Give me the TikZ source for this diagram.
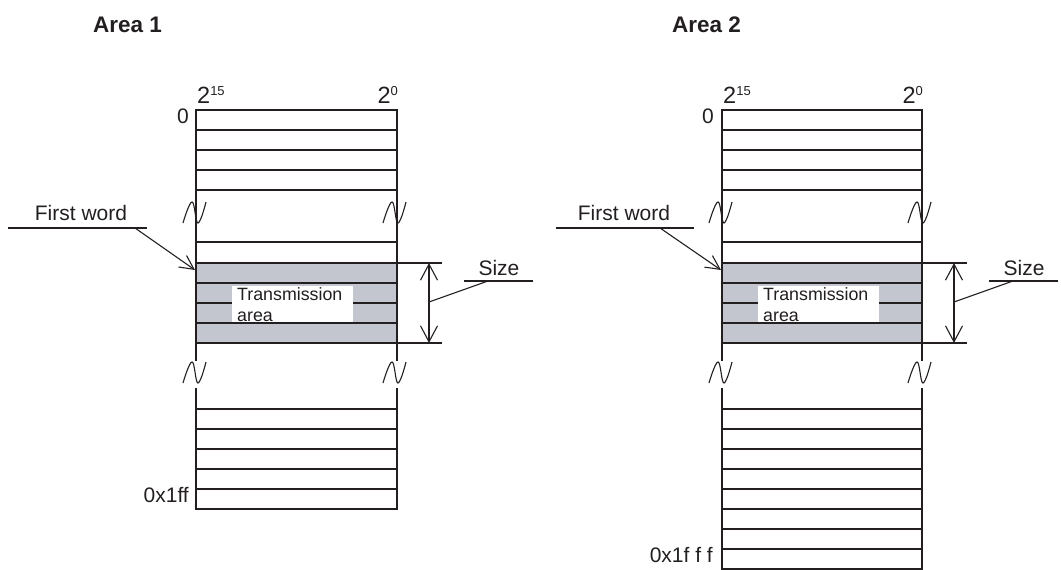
\documentclass[tikz,border=0pt]{standalone}
\usepackage{fontspec}
\setmainfont{Liberation Sans}
\usetikzlibrary{arrows.meta}
\definecolor{inkgray}{RGB}{35,31,32}
\definecolor{areagray}{RGB}{195,198,206}
\newcommand{\breakmark}[2]{\draw[wave, shift={(#1,#2)}] plot[smooth, tension=0.7] coordinates {(-14,10) (-5,-11) (1,10) (9,-11)};}
\newcommand{\bitlabel}[1]{{\fontsize{23.5}{26}\selectfont 2}\raisebox{7.5pt}{\fontsize{13}{13}\selectfont #1}}

\begin{document}
\begin{tikzpicture}[
    x=1pt, y=-1pt,
    cell/.style={draw=inkgray, line width=1.3pt},
    rowline/.style={draw=inkgray, line width=1.6pt},
    lbl/.style={inner sep=0pt, text=inkgray, font=\fontsize{21}{25}\selectfont},
    areatitle/.style={inner sep=0pt, text=inkgray, font=\fontsize{22.5}{26}\selectfont\bfseries},
    tagbox/.style={fill=white, inner xsep=5pt, inner ysep=0pt, minimum width=121pt, minimum height=36pt, text width=111pt, align=left, text=inkgray, font=\fontsize{17.8}{21}\selectfont},
    leader/.style={draw=inkgray, line width=1.1pt},
    arrow/.style={leader, -{Straight Barb[length=14pt,width=14pt]}},
    dimline/.style={leader, {Straight Barb[length=16pt,width=17pt]}-{Straight Barb[length=16pt,width=17pt]}},
    wave/.style={draw=inkgray, line width=1.1pt}
]
    \useasboundingbox (0,0) rectangle (1061,570);

    % Area 1
    \node[areatitle, anchor=base west] (title1) at (93,32) {Area 1};
    \node[lbl, anchor=base west] (msb1) at (197,103) {\bitlabel{15}};
    \node[lbl, anchor=base east] (lsb1) at (398,103) {\bitlabel{0}};
    \node[lbl, anchor=base east] (first1) at (189,123) {0};
    \draw[cell] (196,110) rectangle (397,190);
    \foreach \y in {130,150,170} \draw[rowline] (196,\y) -- (397,\y);
    \draw[cell] (196,190) -- (196,242) (397,190) -- (397,242);
    \breakmark{197}{213}
    \breakmark{397}{213}
    \fill[areagray] (196,263) rectangle (397,343);
    \draw[cell] (196,242) rectangle (397,343);
    \foreach \y in {263,283,303,323} \draw[rowline] (196,\y) -- (397,\y);
    \node[tagbox, anchor=north west] (tx1) at (232,286) {Transmission\\area};
    \draw[cell] (196,343) -- (196,361) (397,343) -- (397,361);
    \breakmark{197}{373}
    \breakmark{397}{373}
    \draw[cell] (196,388) -- (196,409) (397,388) -- (397,409);
    \draw[cell] (196,409) rectangle (397,509);
    \foreach \y in {429,449,469,489} \draw[rowline] (196,\y) -- (397,\y);
    \node[lbl, anchor=base east] (last1) at (189,502) {0x1ff};

    \node[lbl, anchor=base] (word1) at (81,220) {First word};
    \coordinate (wl1) at (8,228);
    \coordinate (wr1) at (147,228);
    \coordinate (wf1) at (135,228);
    \coordinate (wt1) at (195,270);
    \draw[leader] (wl1) -- (wr1);
    \draw[arrow] (wf1) -- (wt1);

    \coordinate (dt1) at (429,263);
    \coordinate (db1) at (429,343);
    \coordinate (dm1) at (429,302);
    \draw[leader] (397,263) -- (442,263) (397,343) -- (442,343);
    \draw[dimline] (dt1) -- (db1);
    \node[lbl, anchor=base] (size1) at (499,275) {Size};
    \coordinate (sl1) at (464,281);
    \coordinate (sr1) at (533,281);
    \coordinate (sf1) at (488,281);
    \draw[leader] (sl1) -- (sr1);
    \draw[leader] (dm1) -- (sf1);

    % Area 2
    \node[areatitle, anchor=base west] (title2) at (672,32) {Area 2};
    \node[lbl, anchor=base west] (msb2) at (723,103) {\bitlabel{15}};
    \node[lbl, anchor=base east] (lsb2) at (923,103) {\bitlabel{0}};
    \node[lbl, anchor=base east] (first2) at (714,123) {0};
    \draw[cell] (722,110) rectangle (922,190);
    \foreach \y in {130,150,170} \draw[rowline] (722,\y) -- (922,\y);
    \draw[cell] (722,190) -- (722,242) (922,190) -- (922,242);
    \breakmark{723}{213}
    \breakmark{922}{213}
    \fill[areagray] (722,263) rectangle (922,343);
    \draw[cell] (722,242) rectangle (922,343);
    \foreach \y in {263,283,303,323} \draw[rowline] (722,\y) -- (922,\y);
    \node[tagbox, anchor=north west] (tx2) at (758,286) {Transmission\\area};
    \draw[cell] (722,343) -- (722,361) (922,343) -- (922,361);
    \breakmark{723}{373}
    \breakmark{922}{373}
    \draw[cell] (722,388) -- (722,409) (922,388) -- (922,409);
    \draw[cell] (722,409) rectangle (922,569);
    \foreach \y in {429,449,469,489,509,529,549} \draw[rowline] (722,\y) -- (922,\y);
    \node[lbl, anchor=base east] (last2) at (713,562) {0x1f f f};

    \node[lbl, anchor=base] (word2) at (624,220) {First word};
    \coordinate (wl2) at (556,228);
    \coordinate (wr2) at (694,228);
    \coordinate (wf2) at (660,228);
    \coordinate (wt2) at (721,270);
    \draw[leader] (wl2) -- (wr2);
    \draw[arrow] (wf2) -- (wt2);

    \coordinate (dt2) at (954,263);
    \coordinate (db2) at (954,343);
    \coordinate (dm2) at (954,302);
    \draw[leader] (922,263) -- (967,263) (922,343) -- (967,343);
    \draw[dimline] (dt2) -- (db2);
    \node[lbl, anchor=base] (size2) at (1024,275) {Size};
    \coordinate (sl2) at (989,281);
    \coordinate (sr2) at (1058,281);
    \coordinate (sf2) at (1013,281);
    \draw[leader] (sl2) -- (sr2);
    \draw[leader] (dm2) -- (sf2);
\end{tikzpicture}
\end{document}
